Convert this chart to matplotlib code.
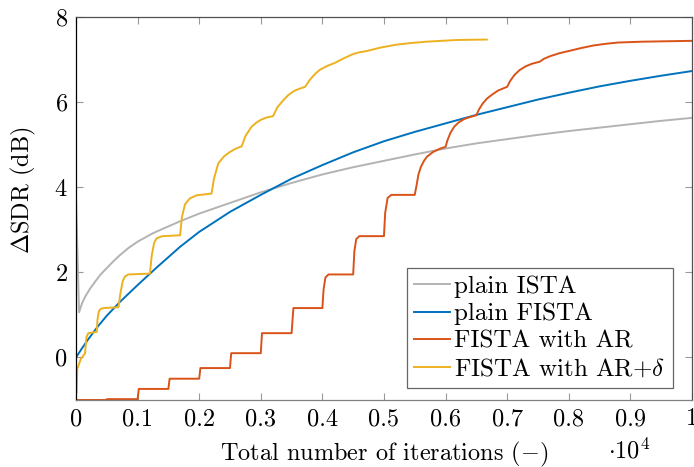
import matplotlib
matplotlib.use("Agg")
import matplotlib.pyplot as plt

plt.rcParams['font.family'] = 'serif'
plt.rcParams['font.serif'] = ['cmr10']
plt.rcParams['mathtext.fontset'] = 'cm'
plt.rcParams['axes.formatter.use_mathtext'] = True
plt.rcParams['axes.unicode_minus'] = False

FS = 17.5

# iterations in units of 1e4
ista_x = [0.0, 0.005, 0.01, 0.015, 0.023, 0.03, 0.04, 0.05, 0.06, 0.071, 0.085, 0.1,
          0.125, 0.15, 0.169, 0.2, 0.25, 0.3, 0.35, 0.4, 0.45, 0.5, 0.55, 0.6, 0.65,
          0.7, 0.75, 0.8, 0.85, 0.9, 0.95, 1.0]
ista_y = [3.75, 1.06, 1.28, 1.43, 1.62, 1.76, 1.95, 2.1, 2.25, 2.4, 2.57, 2.72,
          2.92, 3.08, 3.2, 3.38, 3.63, 3.88, 4.1, 4.3, 4.47, 4.62, 4.77, 4.91, 5.03,
          5.13, 5.23, 5.32, 5.4, 5.48, 5.56, 5.63]

fista_x = [0.0, 0.01, 0.02, 0.035, 0.05, 0.071, 0.1, 0.13, 0.169, 0.2, 0.25, 0.3,
           0.35, 0.4, 0.45, 0.5, 0.55, 0.6, 0.65, 0.7, 0.75, 0.8, 0.85, 0.9, 0.95, 1.0]
fista_y = [0.0, 0.22, 0.43, 0.72, 0.98, 1.3, 1.7, 2.1, 2.6, 2.95, 3.42, 3.82,
           4.2, 4.52, 4.82, 5.08, 5.3, 5.5, 5.7, 5.88, 6.06, 6.22, 6.37, 6.5, 6.62, 6.73]

ar_x = [0.0, 0.05, 0.05, 0.1, 0.102, 0.15, 0.152, 0.2, 0.202, 0.25, 0.252, 0.3, 0.302,
        0.35, 0.353, 0.4, 0.402, 0.405, 0.41, 0.45, 0.452, 0.455, 0.46, 0.5, 0.502,
        0.506, 0.512, 0.55, 0.553, 0.556, 0.56, 0.565, 0.57, 0.58, 0.59, 0.6, 0.603,
        0.608, 0.614, 0.621, 0.63, 0.64, 0.65, 0.654, 0.66, 0.667, 0.675, 0.685, 0.7,
        0.705, 0.712, 0.72, 0.73, 0.74, 0.753, 0.76, 0.77, 0.785, 0.8, 0.82, 0.84,
        0.86, 0.88, 0.92, 0.96, 1.0]
ar_y = [-1.0, -1.0, -0.98, -0.98, -0.74, -0.74, -0.5, -0.5, -0.25, -0.25, 0.1, 0.1, 0.57,
        0.57, 1.16, 1.16, 1.6, 1.88, 1.95, 1.95, 2.5, 2.78, 2.85, 2.85, 3.4,
        3.75, 3.82, 3.82, 4.05, 4.3, 4.48, 4.62, 4.72, 4.83, 4.9, 4.95, 5.1,
        5.28, 5.42, 5.52, 5.6, 5.65, 5.69, 5.82, 5.96, 6.08, 6.17, 6.27, 6.36,
        6.5, 6.64, 6.75, 6.84, 6.9, 6.95, 7.02, 7.08, 7.15, 7.2, 7.27, 7.33,
        7.37, 7.4, 7.42, 7.43, 7.44]

ard_x = [0.001, 0.002, 0.008, 0.0146, 0.017, 0.02, 0.0336, 0.035, 0.037, 0.04, 0.045,
         0.069, 0.072, 0.076, 0.0795, 0.085, 0.12, 0.123, 0.127, 0.131, 0.14, 0.169,
         0.172, 0.177, 0.185, 0.196, 0.22, 0.224, 0.231, 0.24, 0.25, 0.26, 0.269,
         0.275, 0.285, 0.293, 0.301, 0.31, 0.32, 0.327, 0.337, 0.345, 0.355, 0.364,
         0.372, 0.38, 0.388, 0.396, 0.408, 0.42, 0.435, 0.45, 0.46, 0.472, 0.494,
         0.52, 0.545, 0.569, 0.618, 0.667]
ard_y = [-0.82, -0.27, -0.03, 0.09, 0.48, 0.57, 0.6, 0.9, 1.08, 1.14, 1.16,
         1.18, 1.5, 1.8, 1.9, 1.95, 1.97, 2.4, 2.7, 2.8, 2.85, 2.87,
         3.3, 3.6, 3.74, 3.81, 3.85, 4.2, 4.56, 4.72, 4.83, 4.91, 4.96,
         5.2, 5.42, 5.52, 5.59, 5.64, 5.67, 5.88, 6.05, 6.17, 6.27, 6.32,
         6.36, 6.53, 6.66, 6.76, 6.85, 6.92, 7.03, 7.13, 7.17, 7.2, 7.28,
         7.35, 7.39, 7.42, 7.46, 7.47]

fig = plt.figure(figsize=(6.94, 4.67), dpi=100)
ax = fig.add_axes([0.1095, 0.1435, 0.8875, 0.8201])

ax.plot(ista_x, ista_y, color='#b3b3b3', lw=1.4, label='plain ISTA')
ax.plot(fista_x, fista_y, color='#0072bd', lw=1.4, label='plain FISTA')
ax.plot(ar_x, ar_y, color='#d95319', lw=1.4, label='FISTA with AR')
ax.plot(ard_x, ard_y, color='#edb120', lw=1.4, label=r'FISTA with AR$+\delta$')

ax.set_xlim(0, 1)
ax.set_ylim(-1, 8)
ax.set_xticks([i / 10 for i in range(11)])
ax.set_xticklabels(['0', '0.1', '0.2', '0.3', '0.4', '0.5', '0.6', '0.7', '0.8', '0.9', '1'])
ax.set_yticks([0, 2, 4, 6, 8])
ax.tick_params(direction='in', length=5, width=0.8, color='#999999',
               top=True, right=True, labelsize=FS, pad=6)

ax.spines['left'].set_color('black')
ax.spines['bottom'].set_color('#808080')
ax.spines['top'].set_color('#505050')
ax.spines['right'].set_color('#505050')
for s in ax.spines.values():
    s.set_linewidth(0.9)

ax.set_xlabel(r'Total number of iterations $(-)$', fontsize=FS, labelpad=7)
ax.set_ylabel(r'$\Delta$SDR (dB)', fontsize=FS)
ax.yaxis.set_label_coords(-0.062, 0.548)
ax.text(0.898, -0.132, r'$\cdot 10^4$', transform=ax.transAxes, fontsize=FS,
        ha='center', va='center')

leg = ax.legend(loc='lower right', fontsize=18, handlelength=1.42, handletextpad=0.19,
                labelspacing=0.2, borderpad=0.29, borderaxespad=0.0,
                frameon=True, fancybox=False, bbox_to_anchor=(0.9687, 0.0313))
leg.get_frame().set_edgecolor('#404040')
leg.get_frame().set_linewidth(0.9)

fig.savefig('out.png', dpi=100)
